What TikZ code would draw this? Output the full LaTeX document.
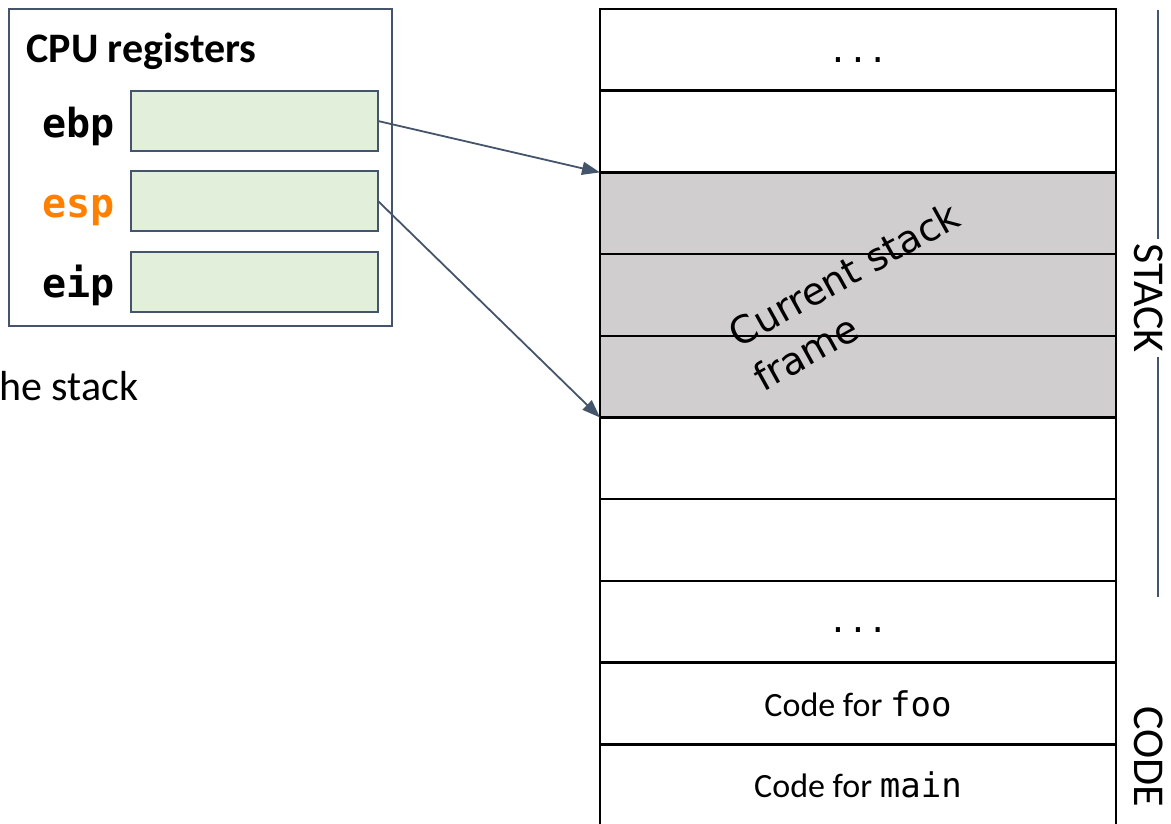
\documentclass[tikz,border=0pt]{standalone}
\usepackage{fontspec}
\setmainfont{Carlito}
\newfontfamily\regfont{DejaVu Sans Mono}
\newfontfamily\framefont{DejaVu Sans}
\usetikzlibrary{arrows.meta}
\definecolor{slate}{HTML}{44546A}
\definecolor{reggreen}{HTML}{E2EFDA}
\definecolor{framegray}{HTML}{D0CECE}
\definecolor{espcol}{HTML}{FF8000}

\begin{document}
\begin{tikzpicture}[x=1pt,y=-1pt,line width=1pt,
  >={Triangle[length=18pt,width=13pt]},
  slot/.style={draw=black,line width=2.5pt,minimum width=516pt,minimum height=81.7pt,inner sep=0pt,outer sep=0pt},
  regcell/.style={draw=slate,line width=2pt,fill=reggreen,minimum width=247pt,minimum height=60pt,inner sep=0pt,outer sep=0pt},
  reglabel/.style={anchor=base east,inner sep=0pt,font=\regfont\bfseries\fontsize{40}{48}\selectfont},
  slottext/.style={font=\fontsize{34}{40}\selectfont},
  dotstext/.style={anchor=base,inner sep=0pt,font=\regfont\fontsize{33}{40}\selectfont},
  sidelabel/.style={rotate=-90,font=\fontsize{44}{52}\selectfont},
  pointer/.style={->,draw=slate,fill=slate,line width=1.8pt}]
  \useasboundingbox (0,0) rectangle (1171,823);

  % stack slots
  \foreach \i/\c in {1/white,2/white,3/framegray,4/framegray,5/framegray,6/white,7/white,8/white,9/white,10/white}
    \node[slot,fill=\c] (r\i) at (858,9+81.7*\i-40.85) {};

  \node[dotstext] (dotsA) at (858,62.5) {...};
  \node[dotstext] (dotsB) at (858,632.5) {...};
  \node[slottext] (foo) at (r9) {Code for {\regfont foo}};
  \node[slottext] (main) at (r10) {Code for {\regfont main}};
  \node[rotate=29,align=left,inner sep=0pt,font=\framefont\fontsize{38}{50}\selectfont] (frame) at (856,296) {Current stack\\frame};

  % register box
  \node[draw=slate,line width=1.5pt,minimum width=383pt,minimum height=317pt,inner sep=0pt] (cpu) at (200.5,167.5) {};
  \node[anchor=base west,inner sep=0pt,font=\bfseries\fontsize{42}{50}\selectfont] (title) at (26,62) {CPU registers};
  \node[regcell] (ebpcell) at (254.5,121) {};
  \node[regcell] (espcell) at (254.5,201) {};
  \node[regcell] (eipcell) at (254.5,282) {};
  \node[reglabel] (ebp) at (115,137) {ebp};
  \node[reglabel,text=espcol] (esp) at (115,217) {esp};
  \node[reglabel] (eip) at (115,297) {eip};

  \node[anchor=base west,inner sep=0pt,font=\fontsize{42}{50}\selectfont] (cut) at (-1,400) {he stack};

  % pointers
  \draw[pointer] (ebpcell.east) -- (r3.north west);
  \draw[pointer] (espcell.east) -- (r5.south west);

  % side labels
  \coordinate (stacktop) at (1158,10);
  \coordinate (stackbot) at (1158,597);
  \node[sidelabel] (stackl) at (1149,298) {STACK};
  \node[sidelabel] (codel) at (1149,757) {CODE};
  \draw[slate,line width=1.5pt] (stacktop) -- (stacktop |- stackl.west);
  \draw[slate,line width=1.5pt] (stacktop |- stackl.east) -- (stackbot);
\end{tikzpicture}
\end{document}
